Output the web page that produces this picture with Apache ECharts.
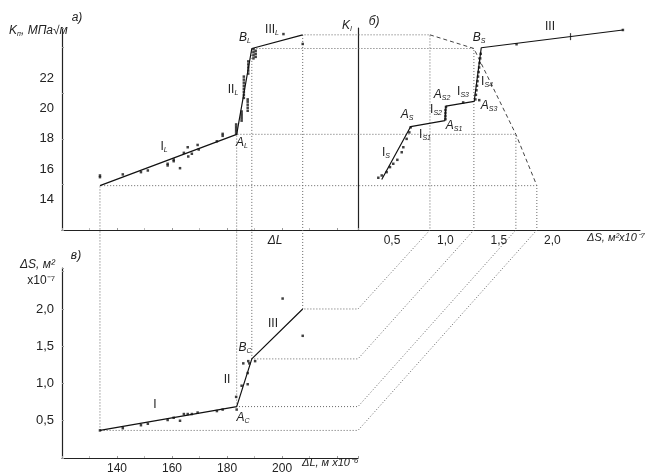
<!DOCTYPE html>
<html>
<head>
<meta charset="utf-8">
<script src="https://cdn.jsdelivr.net/npm/echarts@6/dist/echarts.min.js"></script>
<style>
html, body { margin: 0; padding: 0; background: #fff; }
#main { width: 649px; height: 475px; }
</style>
</head>
<body>
<div id="main"></div>
<script>
// stage points: start of I, A, B, end of III
const stageDL = [133.8, 183.5, 189.0, 207.5];
const stageK = [14.92, 18.3, 23.95, 24.85];
const stageDS = [0.37, 0.69, 1.33, 2.0];
// where each stage lands on the ΔS axis of panel б (dashed curve)
const stageT = [1.855, 1.659, 1.266, 0.855];

// panel а) K vs ΔL, measured points
const pointsA = [
    [133.8, 15.48], [133.8, 15.59], [142.1, 15.66], [148.7, 15.81], [151.2, 15.92],
    [158.4, 16.25], [158.4, 16.36], [160.6, 16.53], [160.6, 16.64], [162.9, 16.07],
    [164.3, 17.08], [165.7, 17.45], [165.9, 16.84], [167.2, 17.02], [169.3, 17.6],
    [169.7, 17.3], [176.3, 17.84], [178.4, 18.2], [178.4, 18.33],
    [183.3, 18.35], [183.3, 18.5], [183.3, 18.65], [183.3, 18.8], [183.3, 18.95],
    [185.3, 19.2], [185.3, 19.35], [185.3, 19.5], [185.3, 19.65], [185.3, 19.8],
    [186.1, 20.7], [186.1, 20.9], [186.1, 21.1], [186.1, 21.3], [186.1, 21.5],
    [186.1, 21.7], [186.1, 21.9], [186.1, 22.1],
    [187.5, 19.85], [187.5, 20.05], [187.5, 20.25], [187.5, 20.45], [187.5, 20.6],
    [187.7, 22.3], [187.7, 22.5], [187.7, 22.7], [187.7, 22.9], [187.7, 23.1],
    [189.6, 23.3], [189.6, 23.5], [189.6, 23.7], [189.6, 23.9],
    [190.4, 23.4], [190.4, 23.6], [190.4, 23.8],
    [200.5, 24.9], [207.5, 24.25]
];

// panel б) K vs ΔS
const lineB = [[0.404, 15.33], [0.675, 18.81], [0.995, 19.2], [1.005, 20.16],
    [1.269, 20.47], [1.335, 24.0], [2.66, 25.17]];
const pointsB = [
    [0.372, 15.44], [0.404, 15.59], [0.45, 15.81], [0.481, 16.14], [0.512, 16.36],
    [0.55, 16.62], [0.591, 17.12], [0.606, 17.45], [0.637, 18.0], [0.662, 18.43],
    [0.675, 18.76],
    [1.0, 19.3], [1.0, 19.5], [1.0, 19.7], [1.0, 19.9], [1.005, 20.1], [1.166, 20.4],
    [1.28, 20.6], [1.285, 20.9], [1.29, 21.2], [1.295, 21.5], [1.3, 21.8], [1.305, 22.1],
    [1.31, 22.4], [1.315, 22.7], [1.32, 23.0], [1.325, 23.3], [1.33, 23.6],
    [1.316, 20.55], [1.665, 24.23], [2.66, 25.17]
];
const tickB = [[2.17, 24.73]];

// panel в) ΔS vs ΔL
const pointsC = [
    [133.8, 0.37], [142.1, 0.40], [148.7, 0.44], [151.2, 0.46], [158.4, 0.51],
    [160.6, 0.54], [162.9, 0.50], [164.3, 0.59], [165.7, 0.59], [167.2, 0.59],
    [169.3, 0.61], [176.3, 0.63], [178.4, 0.65], [183.5, 0.65], [183.3, 0.82],
    [185.9, 1.27], [185.3, 0.97], [187.5, 0.99], [187.5, 1.14], [187.7, 1.30],
    [188.1, 1.27], [190.2, 1.30], [200.2, 2.14], [207.5, 1.64]
];

const kTicks = [14, 16, 18, 20, 22];
const dsTicks = [0.5, 1.0, 1.5, 2.0];
const dlTicks = [140, 160, 180, 200];
const bMin = 0.182;

const FONT = '"Liberation Sans", Arial, sans-serif';
const comma = v => v.toFixed(1).replace('.', ',');
const axisLineStyle = { color: '#222', width: 1.2 };

const chart = echarts.init(document.getElementById('main'));

function lbl(x, y, main, sub, opts) {
    opts = opts || {};
    const mainFont = (opts.upright ? '' : 'italic ') + (opts.size || 12) + 'px ' + FONT;
    return {
        type: 'text', x: x, y: y, z: 100,
        style: {
            text: sub ? '{m|' + main + '}{s|' + sub + '}' : '{m|' + main + '}',
            align: opts.align || 'center', verticalAlign: 'middle',
            rich: {
                m: { font: mainFont, fill: '#222', lineHeight: 14 },
                s: { font: 'italic 7px ' + FONT, fill: '#222', verticalAlign: 'bottom', lineHeight: 9 }
            }
        }
    };
}

const pairs = (xs, ys) => xs.map((x, i) => [x, ys[i]]);

const option = {
    animation: false,
    backgroundColor: '#fff',
    grid: [
        { left: 62, top: 28, width: 296, height: 202 },
        { left: 358, top: 28, width: 282, height: 202 },
        { left: 62, top: 268, width: 296, height: 192 },
        { left: 0, top: 0, width: 649, height: 475 }
    ],
    xAxis: [
        {
            gridIndex: 0, type: 'value', min: 120, max: 227.6, position: 'bottom',
            axisLine: { show: true, onZero: false, lineStyle: axisLineStyle },
            axisTick: { show: true, inside: true, length: 2, lineStyle: { color: '#999' } },
            minorTick: { show: true, splitNumber: 2, length: 2, lineStyle: { color: '#bbb' } },
            axisLabel: { show: false }, splitLine: { show: false }
        },
        {
            gridIndex: 1, type: 'value', min: bMin, max: 2.82, position: 'bottom',
            axisLine: { show: true, onZero: false, lineStyle: axisLineStyle },
            axisTick: { show: false },
            axisLabel: {
                customValues: dsTicks, formatter: comma, margin: 5,
                color: '#222', fontSize: 12, fontFamily: FONT
            },
            splitLine: { show: false }
        },
        {
            gridIndex: 2, type: 'value', min: 120, max: 227.6, position: 'bottom',
            axisLine: { show: true, onZero: false, lineStyle: axisLineStyle },
            axisTick: { show: true, inside: true, length: 2, lineStyle: { color: '#999' } },
            minorTick: { show: true, splitNumber: 2, length: 2, lineStyle: { color: '#bbb' } },
            axisLabel: {
                customValues: dlTicks, margin: 5,
                color: '#222', fontSize: 12, fontFamily: FONT
            },
            splitLine: { show: false }
        },
        { gridIndex: 3, type: 'value', min: 0, max: 649, show: false }
    ],
    yAxis: [
        {
            gridIndex: 0, type: 'value', min: 12, max: 25.3,
            axisLine: { show: true, onZero: false, lineStyle: axisLineStyle },
            axisTick: { show: true, inside: true, length: 2, lineStyle: { color: '#999' } },
            axisLabel: {
                customValues: kTicks, margin: 8,
                color: '#222', fontSize: 13, fontFamily: FONT
            },
            splitLine: { show: false }
        },
        {
            gridIndex: 1, type: 'value', min: 12, max: 25.3,
            axisLine: { show: true, onZero: false, lineStyle: axisLineStyle },
            axisTick: { show: false }, axisLabel: { show: false },
            splitLine: { show: false }
        },
        {
            gridIndex: 2, type: 'value', min: 0, max: 2.55,
            axisLine: { show: true, onZero: false, lineStyle: axisLineStyle },
            axisTick: { show: true, inside: true, length: 2, lineStyle: { color: '#999' } },
            axisLabel: {
                customValues: dsTicks, formatter: comma, margin: 8,
                color: '#222', fontSize: 13, fontFamily: FONT
            },
            splitLine: { show: false }
        },
        { gridIndex: 3, type: 'value', min: 0, max: 475, inverse: true, show: false }
    ],
    series: [
        {
            type: 'line', xAxisIndex: 0, yAxisIndex: 0, symbol: 'none', z: 5,
            lineStyle: { color: '#111', width: 1.2 },
            data: pairs(stageDL, stageK)
        },
        {
            type: 'scatter', xAxisIndex: 0, yAxisIndex: 0, symbol: 'rect', symbolSize: 2.5, z: 6,
            itemStyle: { color: '#111' }, data: pointsA
        },
        {
            type: 'line', xAxisIndex: 1, yAxisIndex: 1, symbol: 'none', z: 5,
            lineStyle: { color: '#111', width: 1.2 }, data: lineB
        },
        {
            type: 'scatter', xAxisIndex: 1, yAxisIndex: 1, symbol: 'rect', symbolSize: 2.5, z: 6,
            itemStyle: { color: '#111' }, data: pointsB
        },
        {
            type: 'scatter', xAxisIndex: 1, yAxisIndex: 1, symbol: 'rect', symbolSize: [1.2, 7], z: 6,
            itemStyle: { color: '#111' }, data: tickB
        },
        {
            type: 'line', xAxisIndex: 1, yAxisIndex: 1, symbol: 'none', z: 4,
            lineStyle: { color: '#444', width: 1, type: [4, 3] },
            data: pairs(stageT, stageK).slice().sort((p, q) => p[0] - q[0])
        },
        {
            type: 'line', xAxisIndex: 2, yAxisIndex: 2, symbol: 'none', z: 5,
            lineStyle: { color: '#111', width: 1.2 },
            data: pairs(stageDL, stageDS)
        },
        {
            type: 'scatter', xAxisIndex: 2, yAxisIndex: 2, symbol: 'rect', symbolSize: 2.5, z: 6,
            itemStyle: { color: '#111' }, data: pointsC
        }
    ],
    graphic: [
        lbl(9, 31, 'K', 'п', { align: 'left' }),
        { type: 'text', x: 21, y: 31, style: { text: ', МПа√м', font: 'italic 12px ' + FONT, fill: '#222', verticalAlign: 'middle' } },
        lbl(77, 18, 'а)'),
        lbl(347, 26, 'K', 'I'),
        lbl(374, 22, 'б)'),
        lbl(275, 241, 'ΔL'),
        lbl(76, 256, 'в)'),
        lbl(55, 265, 'ΔS, м²', null, { align: 'right' }),
        lbl(55, 281, 'x10⁻⁷', null, { align: 'right', upright: true }),
        lbl(302, 463, 'ΔL, м x10⁻⁶', null, { align: 'left', size: 11 }),
        lbl(645, 238, 'ΔS, м²x10⁻⁷', null, { align: 'right', size: 11 }),
        // panel а
        lbl(164, 147, 'I', 'L', { upright: true }),
        lbl(233, 90, 'II', 'L', { upright: true }),
        lbl(272, 30, 'III', 'L', { upright: true }),
        lbl(245, 38, 'B', 'L'),
        lbl(242, 143, 'A', 'L'),
        // panel б
        lbl(550, 27, 'III', null, { upright: true }),
        lbl(479, 38, 'B', 'S'),
        lbl(487, 82, 'I', 'S4', { upright: true }),
        lbl(489, 106, 'A', 'S3'),
        lbl(463, 92, 'I', 'S3', { upright: true }),
        lbl(442, 95, 'A', 'S2'),
        lbl(436, 110, 'I', 'S2', { upright: true }),
        lbl(454, 126, 'A', 'S1'),
        lbl(407, 115, 'A', 'S'),
        lbl(425, 135, 'I', 'S1', { upright: true }),
        lbl(386, 153, 'I', 'S', { upright: true }),
        // panel в
        lbl(155, 405, 'I', null, { upright: true }),
        lbl(227, 380, 'II', null, { upright: true }),
        lbl(273, 324, 'III', null, { upright: true }),
        lbl(245, 348, 'B', 'C'),
        lbl(243, 418, 'A', 'C')
    ]
};

chart.setOption(option);

// construction lines through the three panels, placed by the panels' own axes
const px = (g, x, y) => chart.convertToPixel({ gridIndex: g }, [x, y]);
const kAxisX = chart.convertToPixel({ xAxisIndex: 1 }, bMin);
const construction = stageDL.map((dl, i) => {
    const pa = px(0, dl, stageK[i]);
    const pc = px(2, dl, stageDS[i]);
    const pt = px(1, stageT[i], stageK[i]);
    const pb0 = px(1, stageT[i], 12);
    const pk = [kAxisX, pc[1]];
    return {
        type: 'line', xAxisIndex: 3, yAxisIndex: 3, symbol: 'none', z: 2,
        lineStyle: { color: '#666', width: 1, type: [1, 2] },
        data: [pc, pa, pt, pb0, pk, pc]
    };
});
chart.setOption({ series: option.series.concat(construction) });
</script>
</body>
</html>
